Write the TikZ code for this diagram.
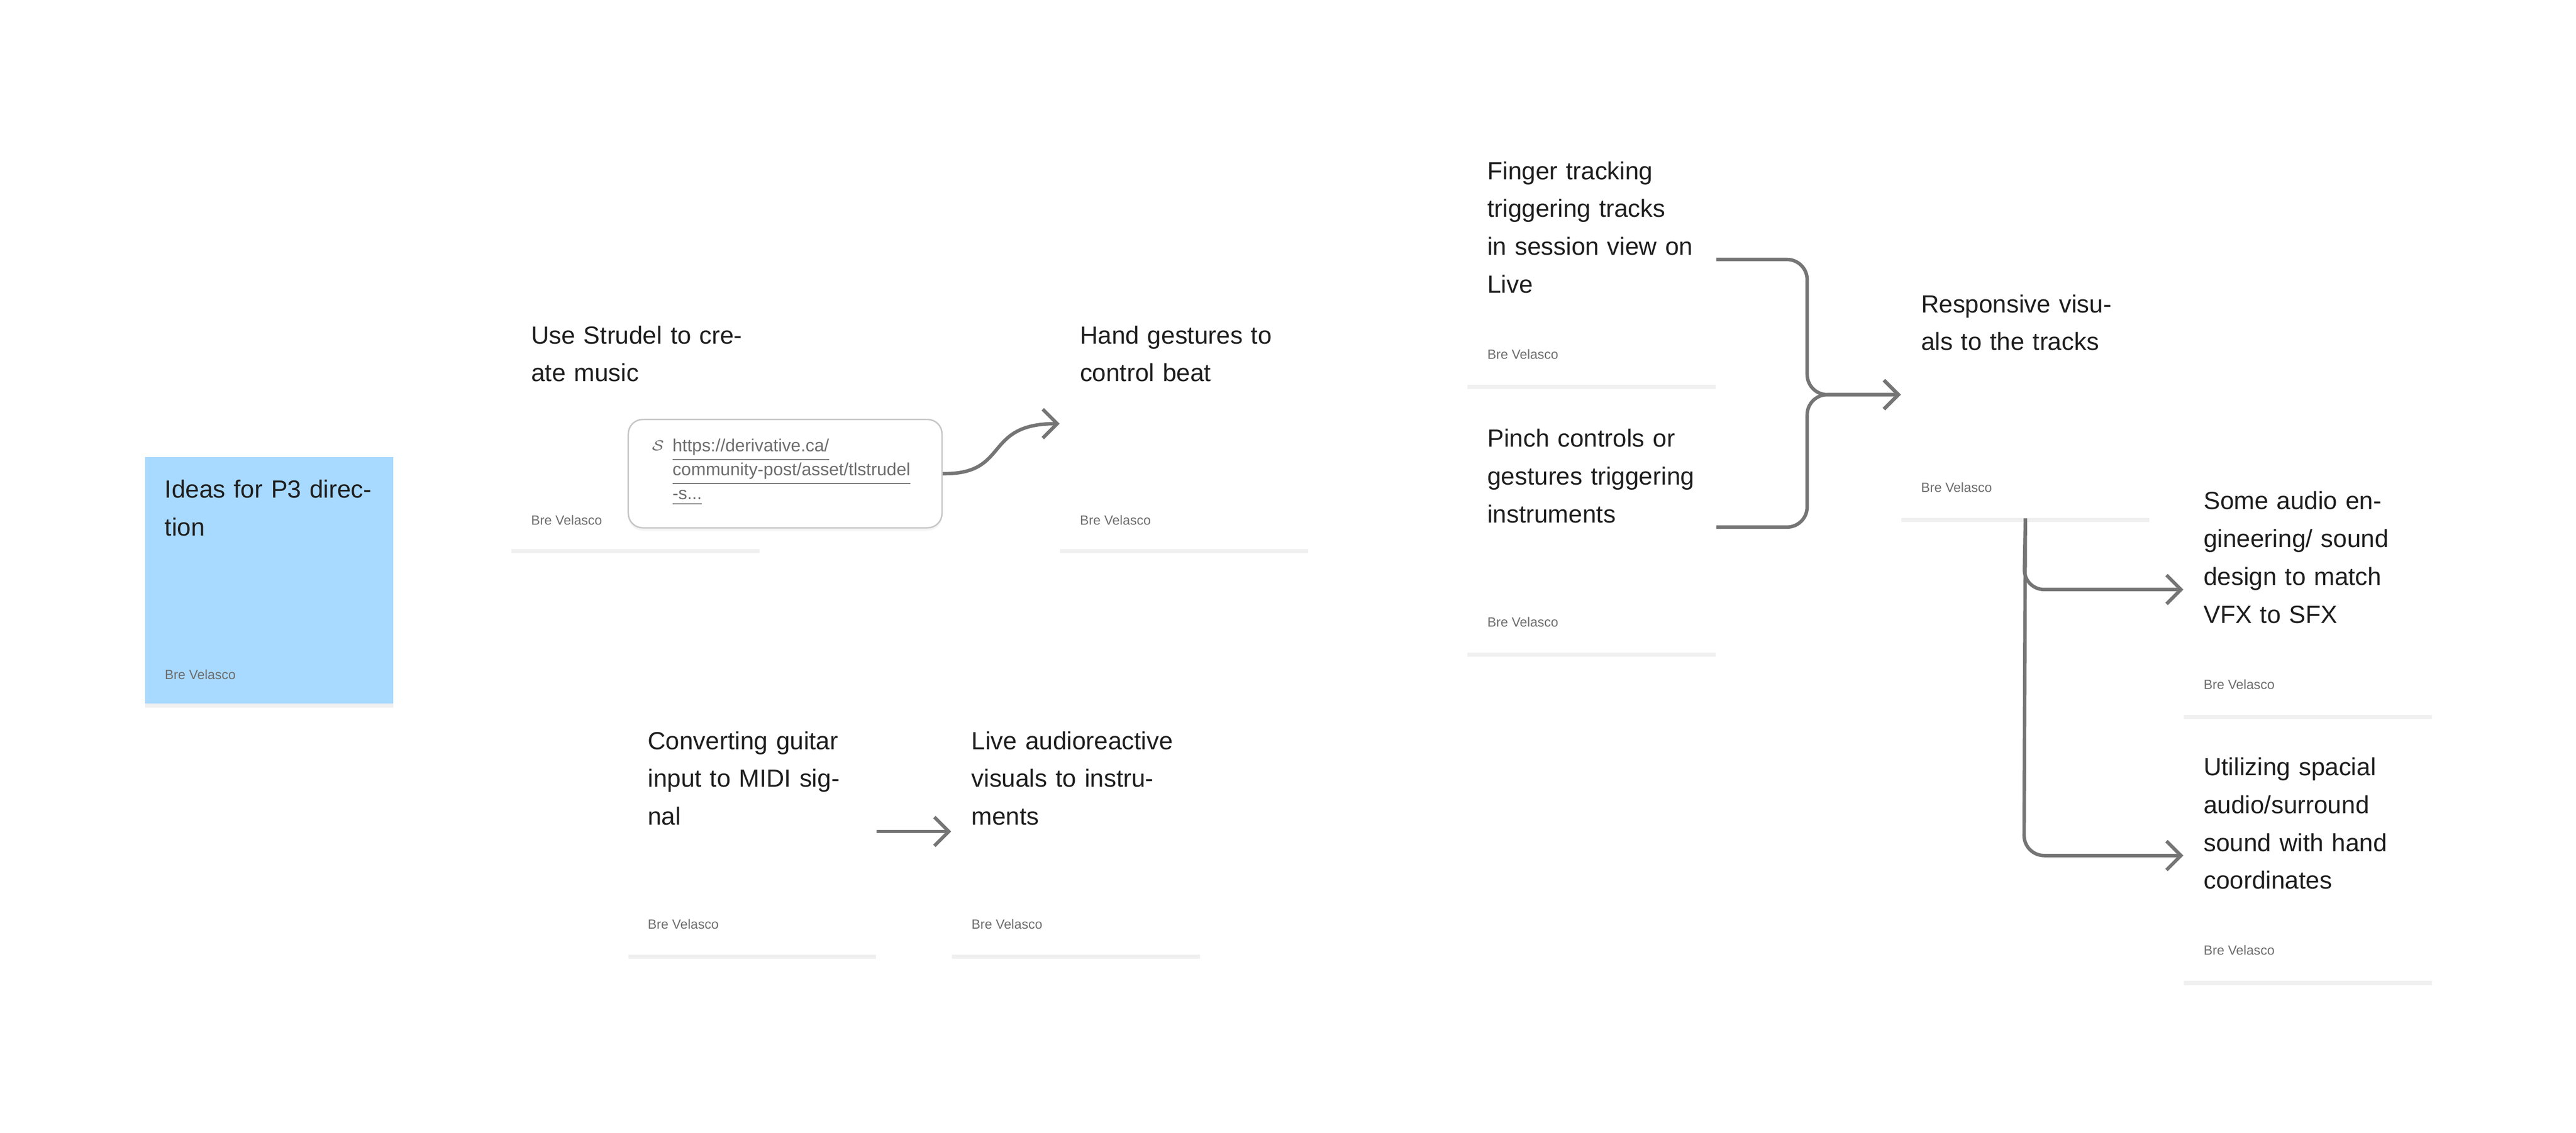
\documentclass[tikz,border=0pt]{standalone}
\usepackage{fontspec}
\setmainfont{Liberation Sans}
\usetikzlibrary{arrows.meta,shadows}
\definecolor{blueNote}{HTML}{A8D9FF}
\definecolor{lineGray}{HTML}{757575}
\definecolor{textDark}{HTML}{1E1E1E}
\definecolor{textGray}{HTML}{6E6E6E}
\tikzset{
  card/.style={anchor=north west, draw=none, fill=white, minimum width=3.02cm, minimum height=3.0cm,
    drop shadow={opacity=0.12, shadow xshift=0pt, shadow yshift=-1.5pt}},
  title/.style={anchor=north west, inner sep=0pt, text width=2.6cm, align=left, text=textDark,
    font=\fontsize{8.6}{13.1}\selectfont},
  author/.style={anchor=south west, inner sep=0pt, text=textGray, font=\fontsize{4.6}{5}\selectfont},
  link/.style={line width=1.2pt, draw=lineGray, rounded corners=7pt, -{Straight Barb[length=5pt,width=10pt,line width=1.2pt]}}
}
\begin{document}
\begin{tikzpicture}[x=0.02cm,y=-0.02cm]
        \useasboundingbox (0,0) rectangle (1568,689.7);
        % notes
        \node [card, fill=blueNote] (ideas) at (88,278) {};
        \node [title] at (100,292) {Ideas for P3 direction};
        \node [author] at (100,414) {Bre Velasco};
        \node [card] (strudel) at (311,184) {};
        \node [title] at (323,198) {Use Strudel to create music};
        \node [author] at (323,320) {Bre Velasco};
        \node [card] (hand) at (645,184) {};
        \node [title] at (657,198) {Hand gestures to control beat};
        \node [author] at (657,320) {Bre Velasco};
        \node [card] (guitar) at (382,431) {};
        \node [title] at (394,445) {Converting guitar input to MIDI signal};
        \node [author] at (394,566) {Bre Velasco};
        \node [card] (live) at (579,431) {};
        \node [title] at (591,445) {Live audioreactive visuals to instruments};
        \node [author] at (591,566) {Bre Velasco};
        \node [card] (finger) at (893,84) {};
        \node [title] at (905,98) {Finger tracking triggering tracks in session view on Live};
        \node [author] at (905,219) {Bre Velasco};
        \node [card] (pinch) at (893,247) {};
        \node [title] at (905,261) {Pinch controls or gestures triggering instruments};
        \node [author] at (905,382) {Bre Velasco};
        \node [card] (resp) at (1157,165) {};
        \node [title] at (1169,179) {Responsive visuals to the tracks};
        \node [author] at (1169,300) {Bre Velasco};
        \node [card] (audio) at (1329,285) {};
        \node [title] at (1341,299) {Some audio engineering/ sound design to match VFX to SFX};
        \node [author] at (1341,420) {Bre Velasco};
        \node [card] (spatial) at (1329,447) {};
        \node [title] at (1341,461) {Utilizing spacial audio/surround sound with hand coordinates};
        \node [author] at (1341,582) {Bre Velasco};
        % link preview
        \node [anchor=north west, draw=black!22, fill=white, rounded corners=5pt, line width=0.5pt,
          minimum width=3.82cm, minimum height=1.32cm,
          drop shadow={opacity=0.08, shadow xshift=0pt, shadow yshift=-1pt}] (url) at (382,255) {};
        \node [anchor=north west, inner sep=0pt, text=textGray, align=left,
          font=\fontsize{6.1}{8.3}\selectfont] (urltext) at (409,267)
          {\underline{https://derivative.ca/}\\\underline{community-post/asset/tlstrudel}\\\underline{-s...}};
        \node [anchor=north east, inner sep=0pt, text=textGray, font=\fontsize{5}{5}\selectfont]
          (chain) at (405,268) {$\mathcal{S}$};
        % connectors
        \draw [link] (url.east) .. controls (615,289) and (598,258) .. (hand.west |- 0,258);
        \draw [link] (guitar.east) -- (live.west);
        \draw [link] (finger.east |- 0,158) -- (1100,158) |- (resp.west);
        \draw [link] (pinch.east |- 0,321) -- (1100,321) |- (resp.west);
        \draw [link] (resp.south) -- (1232,359) -- (audio.west |- 0,359);
        \draw [link] (resp.south) -- (1232,521) -- (spatial.west |- 0,521);
\end{tikzpicture}
\end{document}
